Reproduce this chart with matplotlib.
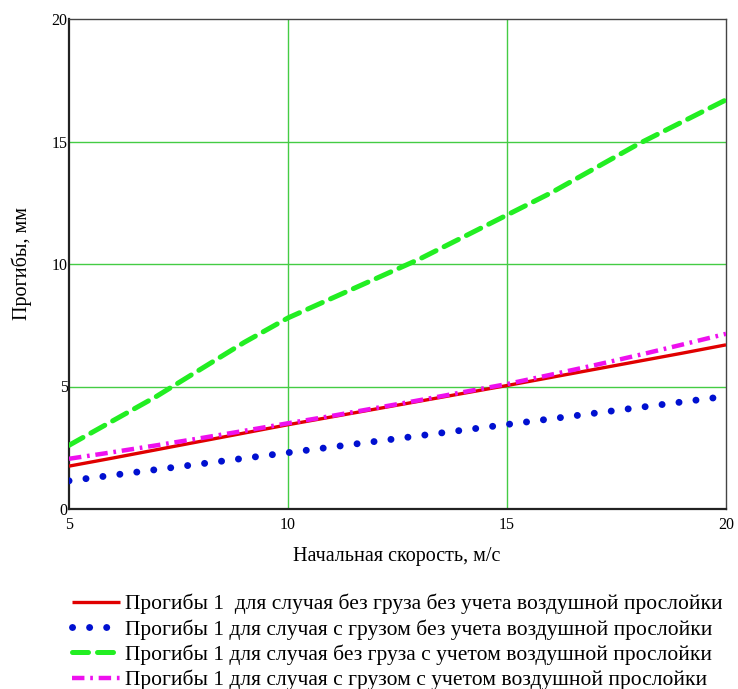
import matplotlib
matplotlib.use("Agg")
import matplotlib.pyplot as plt

plt.rcParams['font.family'] = ['Liberation Serif', 'DejaVu Serif']

# Data
speed = [5, 6, 7, 8, 9, 10, 11, 12, 13, 14, 15, 16, 17, 18, 19, 20]
red_no_load_no_air = [1.75, 2.08, 2.42, 2.76, 3.10, 3.44, 3.76, 4.08, 4.40, 4.72,
                      5.04, 5.37, 5.70, 6.03, 6.36, 6.70]
blue_load_no_air = [1.15, 1.38, 1.61, 1.84, 2.07, 2.30, 2.53, 2.76, 2.99, 3.22,
                    3.45, 3.68, 3.91, 4.14, 4.37, 4.60]
green_no_load_air = [2.6, 3.6, 4.6, 5.7, 6.8, 7.8, 8.6, 9.4, 10.2, 11.1,
                     12.0, 12.9, 13.9, 14.9, 15.8, 16.7]
magenta_load_air = [2.05, 2.32, 2.60, 2.89, 3.19, 3.50, 3.80, 4.12, 4.44, 4.77,
                    5.10, 5.48, 5.87, 6.28, 6.71, 7.15]

labels = [
    "Прогибы 1  для случая без груза без учета воздушной прослойки",
    "Прогибы 1 для случая с грузом без учета воздушной прослойки",
    "Прогибы 1 для случая без груза с учетом воздушной прослойки",
    "Прогибы 1 для случая с грузом с учетом воздушной прослойки",
]
x_ticks = [5, 10, 15, 20]
y_ticks = [0, 5, 10, 15, 20]

W, H = 738, 689
fig = plt.figure(figsize=(W / 100, H / 100), dpi=100)
ax = fig.add_axes([69 / W, 1 - 509 / H, 657 / W, 490 / H])

grid_color = '#44cc44'
for xv in x_ticks[1:-1]:
    ax.axvline(xv, color=grid_color, lw=1.0, zorder=1)
for yv in y_ticks[1:-1]:
    ax.axhline(yv, color=grid_color, lw=1.0, zorder=1)

h1, = ax.plot(speed, red_no_load_no_air, color='#e00000', lw=2.4,
              solid_capstyle='butt', zorder=3)
h2, = ax.plot(speed, blue_load_no_air, color='#0010d0', lw=5,
              linestyle=(0, (0.01, 2.45)), dash_capstyle='round', zorder=3)
h3, = ax.plot(speed, green_no_load_air, color='#22ee22', lw=3.6,
              linestyle=(0, (3.2, 1.8)), dash_capstyle='round', zorder=3)
h4, = ax.plot(speed, magenta_load_air, color='#ee10ee', lw=3.2,
              linestyle=(0, (2.8, 1.3, 0.6, 1.3)), dash_capstyle='butt', zorder=4)

ax.set_xlim(5, 20)
ax.set_ylim(0, 20)
ax.set_xticks(x_ticks)
ax.set_yticks(y_ticks)
ax.tick_params(length=0, labelsize=11.5)
ax.tick_params(axis='y', pad=1)
ax.tick_params(axis='x', pad=6)

for s in ['left', 'bottom']:
    ax.spines[s].set_linewidth(1.6)
    ax.spines[s].set_color('#222222')
for s in ['top', 'right']:
    ax.spines[s].set_linewidth(1.0)
    ax.spines[s].set_color('#444444')

fig.text(397 / W, 1 - 556 / H, "Начальная скорость, м/с", fontsize=14.5,
         ha='center', va='center')
fig.text(22 / W, 1 - 264 / H, "Прогибы, мм", fontsize=14.5, rotation=90,
         ha='center', va='center')

fig.legend([h1, h2, h3, h4], labels, loc='upper left',
           bbox_to_anchor=(72 / W, 1 - 594 / H), frameon=False, fontsize=15.5,
           handlelength=2.25, handletextpad=0.22, labelspacing=0.22,
           borderaxespad=0, borderpad=0)

fig.savefig("out.png", dpi=100)
